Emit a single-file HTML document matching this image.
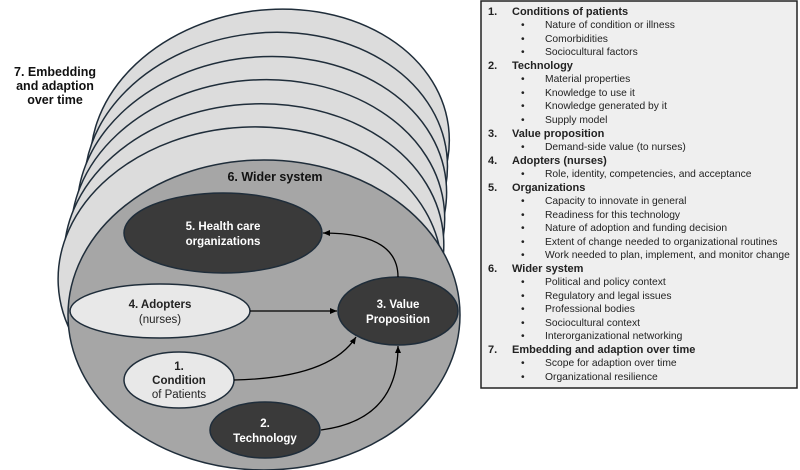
<!DOCTYPE html>
<html><head><meta charset="utf-8"><style>body{margin:0;background:#fff}svg{display:block}</style></head>
<body>
<svg width="800" height="470" viewBox="0 0 800 470" xmlns="http://www.w3.org/2000/svg" font-family="Liberation Sans, Arial, sans-serif">
<defs><marker id="a" markerWidth="8" markerHeight="8" refX="7" refY="4" orient="auto" markerUnits="userSpaceOnUse"><path d="M0,1 L7,4 L0,7 z" fill="#000"/></marker></defs>
<g fill="#dcdcdc" stroke="#1f2d3a" stroke-width="1.5">
<ellipse cx="270" cy="150" rx="180" ry="140" transform="rotate(-8 270 150)"/>
<ellipse cx="266" cy="175" rx="182" ry="142" transform="rotate(-7 266 175)"/>
<ellipse cx="262" cy="200" rx="185" ry="143" transform="rotate(-6 262 200)"/>
<ellipse cx="258" cy="225" rx="187" ry="145" transform="rotate(-5 258 225)"/>
<ellipse cx="254" cy="250" rx="190" ry="146" transform="rotate(-4 254 250)"/>
<ellipse cx="250" cy="275" rx="192" ry="148" transform="rotate(-3 250 275)"/>
</g>
<ellipse cx="264" cy="315" rx="196" ry="155" fill="#a6a6a6" stroke="#1f2d3a" stroke-width="1.5"/>
<text x="55" y="76" font-size="12.5" font-weight="bold" text-anchor="middle" fill="#111">7. Embedding</text>
<text x="55" y="90" font-size="12.5" font-weight="bold" text-anchor="middle" fill="#111">and adaption</text>
<text x="55" y="104" font-size="12.5" font-weight="bold" text-anchor="middle" fill="#111">over time</text>
<text x="275" y="181" font-size="12.5" font-weight="bold" text-anchor="middle" fill="#111">6. Wider system</text>
<g stroke="#1f2d3a" stroke-width="1.5">
<ellipse cx="223" cy="233" rx="99" ry="40" fill="#3a3a3a"/>
<ellipse cx="160" cy="311" rx="90" ry="27" fill="#e8e8e8"/>
<ellipse cx="398" cy="311" rx="60" ry="34" fill="#3a3a3a"/>
<ellipse cx="179" cy="380" rx="55" ry="28" fill="#e8e8e8"/>
<ellipse cx="265" cy="430" rx="55" ry="28" fill="#3a3a3a"/>
</g>
<g fill="none" stroke="#000" stroke-width="1.3" marker-end="url(#a)">
<path d="M250,311 L337,311"/>
<path d="M398,277 Q398,233 323,233"/>
<path d="M234,380 Q330,378 356,337"/>
<path d="M321,430 Q398,420 398,346"/>
</g>
<g font-size="11.5" text-anchor="middle" font-weight="bold">
<text x="223" y="230" fill="#fff">5. Health care</text>
<text x="223" y="245" fill="#fff">organizations</text>
<text x="398" y="308" fill="#fff">3. Value</text>
<text x="398" y="323" fill="#fff">Proposition</text>
<text x="160" y="308" fill="#222">4. Adopters</text>
<text x="160" y="323" fill="#222" font-weight="normal">(nurses)</text>
<text x="179" y="370" fill="#222">1.</text>
<text x="179" y="384" fill="#222">Condition</text>
<text x="179" y="398" fill="#222" font-weight="normal">of Patients</text>
<text x="265" y="427" fill="#fff">2.</text>
<text x="265" y="442" fill="#fff">Technology</text>
</g>
<rect x="481" y="1" width="316" height="387" fill="#efefef" stroke="#222" stroke-width="1.5"/>
<g font-size="10.3" fill="#222">
<g font-weight="bold" font-size="11">
<text x="488" y="15">1.</text><text x="512" y="15">Conditions of patients</text>
<text x="488" y="69">2.</text><text x="512" y="69">Technology</text>
<text x="488" y="137">3.</text><text x="512" y="137">Value proposition</text>
<text x="488" y="164">4.</text><text x="512" y="164">Adopters (nurses)</text>
<text x="488" y="191">5.</text><text x="512" y="191">Organizations</text>
<text x="488" y="272">6.</text><text x="512" y="272">Wider system</text>
<text x="488" y="353">7.</text><text x="512" y="353">Embedding and adaption over time</text>
</g>
<g>
<text x="521" y="28">•</text><text x="545" y="28">Nature of condition or illness</text>
<text x="521" y="42">•</text><text x="545" y="42">Comorbidities</text>
<text x="521" y="55">•</text><text x="545" y="55">Sociocultural factors</text>
<text x="521" y="82">•</text><text x="545" y="82">Material properties</text>
<text x="521" y="96">•</text><text x="545" y="96">Knowledge to use it</text>
<text x="521" y="109">•</text><text x="545" y="109">Knowledge generated by it</text>
<text x="521" y="123">•</text><text x="545" y="123">Supply model</text>
<text x="521" y="150">•</text><text x="545" y="150">Demand-side value (to nurses)</text>
<text x="521" y="177">•</text><text x="545" y="177">Role, identity, competencies, and acceptance</text>
<text x="521" y="204">•</text><text x="545" y="204">Capacity to innovate in general</text>
<text x="521" y="218">•</text><text x="545" y="218">Readiness for this technology</text>
<text x="521" y="231">•</text><text x="545" y="231">Nature of adoption and funding decision</text>
<text x="521" y="245">•</text><text x="545" y="245">Extent of change needed to organizational routines</text>
<text x="521" y="258">•</text><text x="545" y="258">Work needed to plan, implement, and monitor change</text>
<text x="521" y="285">•</text><text x="545" y="285">Political and policy context</text>
<text x="521" y="299">•</text><text x="545" y="299">Regulatory and legal issues</text>
<text x="521" y="312">•</text><text x="545" y="312">Professional bodies</text>
<text x="521" y="326">•</text><text x="545" y="326">Sociocultural context</text>
<text x="521" y="339">•</text><text x="545" y="339">Interorganizational networking</text>
<text x="521" y="366">•</text><text x="545" y="366">Scope for adaption over time</text>
<text x="521" y="380">•</text><text x="545" y="380">Organizational resilience</text>
</g>
</g>
</svg>
</body></html>
